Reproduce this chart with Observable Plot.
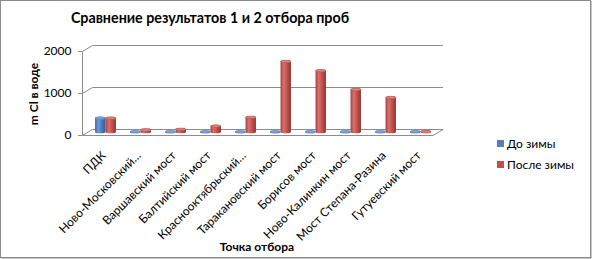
<!DOCTYPE html>
<html>
<head>
<meta charset="utf-8">
<script src="https://cdn.jsdelivr.net/npm/d3@7"></script>
<script src="https://cdn.jsdelivr.net/npm/@observablehq/plot@0.6"></script>
<style>
  html, body { margin: 0; padding: 0; background: #fff; }
  #chart { position: relative; width: 593px; height: 259px; font-family: Lato, "Open Sans", sans-serif; color: #000; }
  #border { position: absolute; left: 0; top: 0; width: 591px; height: 258px; box-sizing: border-box; border: 1px solid #8a8a8a; box-shadow: 1px 1px 0 #c8c8c8; }
  #plot { position: absolute; left: 0; top: 0; }
  .title { position: absolute; left: 0; top: 11px; width: 420px; text-align: center; font-weight: bold; font-size: 14.3px; line-height: 14px; white-space: nowrap; }
  .ytitle { position: absolute; left: 34px; top: 93.5px; transform: translate(-50%, -50%) rotate(-90deg); font-weight: bold; font-size: 12px; line-height: 12px; white-space: nowrap; }
  .xtitle { position: absolute; left: 257px; top: 247px; transform: translate(-50%, -50%); font-weight: bold; font-size: 12px; line-height: 12px; white-space: nowrap; }
  .legend { position: absolute; left: 497px; top: 137px; font-size: 12px; }
  .legend .item { display: flex; align-items: center; height: 12px; margin-bottom: 9.7px; white-space: nowrap; }
  .legend .sw { width: 7px; height: 7px; margin-right: 3px; }
</style>
</head>
<body>
<div id="chart">
  <div id="border"></div>
  <div id="plot"></div>
  <div class="title" id="title"></div>
  <div class="ytitle" id="ytitle"></div>
  <div class="xtitle" id="xtitle"></div>
  <div class="legend" id="legend"></div>
</div>
<script>
// ---- data ----
const chartTitle = "Сравнение результатов 1 и 2 отбора проб";
const yTitle = "m Cl в воде";
const xTitle = "Точка отбора";
const categories = [
  "ПДК",
  "Ново-Московский…",
  "Варшавский мост",
  "Балтийский мост",
  "Краснооктябрьский…",
  "Таракановский мост",
  "Борисов мост",
  "Ново-Калинкин мост",
  "Мост Степана-Разина",
  "Гутуевский мост"
];
const beforeWinter = [330, 5, 5, 5, 5, 5, 5, 5, 5, 5];
const afterWinter = [330, 50, 65, 140, 350, 1680, 1460, 1010, 820, 8];
const seriesNames = ["До зимы", "После зимы"];
const seriesColors = ["#4f81bd", "#c0504d"];
const yTicks = [0, 1000, 2000];

// ---- build ----
const rows = categories.map((c, i) => ({cat: c, before: beforeWinter[i], after: afterWinter[i]}));

document.getElementById("title").textContent = chartTitle;
document.getElementById("ytitle").textContent = yTitle;
document.getElementById("xtitle").textContent = xTitle;
const leg = document.getElementById("legend");
seriesNames.forEach((n, i) => {
  const it = document.createElement("div"); it.className = "item";
  const sw = document.createElement("div"); sw.className = "sw"; sw.style.background = seriesColors[i];
  const tx = document.createElement("span"); tx.textContent = n;
  it.appendChild(sw); it.appendChild(tx); leg.appendChild(it);
});

// 3D wall / floor, drawn from the y scale
function wallMark(index, scales, values, dims) {
  const y = scales.y;
  const L = dims.marginLeft, R = dims.width - dims.marginRight;
  const depthX = 10, depthY = 3;
  const front = v => Math.round(y(v) + depthY) + 0.5;
  const back = v => Math.round(y(v) - depthY) + 0.5;
  const g = d3.create("svg:g");
  const defs = g.append("defs");
  const grads = [
    ["gBlue", ["#3b679f", "#6f9ad3", "#4a7bb9", "#335b8f"]],
    ["gRed", ["#a63d3a", "#d8716d", "#bf4f4b", "#93332f"]]
  ];
  for (const [id, cols] of grads) {
    const lg = defs.append("linearGradient").attr("id", id).attr("x1", 0).attr("x2", 1).attr("y1", 0).attr("y2", 0);
    [0, 0.3, 0.65, 1].forEach((o, k) => lg.append("stop").attr("offset", o).attr("stop-color", cols[k]));
  }
  const lines = g.append("g").attr("fill", "none").attr("stroke", "#8c8c8c").attr("stroke-width", 1);
  const Lx = Math.round(L) + 0.5;
  lines.append("line").attr("x1", Lx).attr("x2", Lx).attr("y1", front(d3.max(yTicks))).attr("y2", front(0));
  for (const t of yTicks) {
    lines.append("path").attr("d", `M${Lx},${front(t)}L${Lx + depthX},${back(t)}H${R + depthX}`);
  }
  lines.append("path").attr("d", `M${Lx},${front(0)}H${R}L${R + depthX},${back(0)}`);
  return g.node();
}

const half = 17.55, barW = 10.5, ry = 1.3;
const cyl = (key, grad, cap, left) => [
  Plot.barY(rows, {
    x: "cat", y: key, fill: `url(#${grad})`,
    insetLeft: left ? half - barW : half, insetRight: left ? half : half - barW,
    insetTop: -ry, insetBottom: -ry, rx: barW / 2, ry: ry
  }),
  Plot.barY(rows, {
    x: "cat", y1: key, y2: key, fill: cap, stroke: grad === "gRed" ? "#a5403d" : "#3e6aa2", strokeWidth: 0.4,
    insetLeft: left ? half - barW : half, insetRight: left ? half : half - barW,
    insetTop: -ry, insetBottom: -ry, rx: barW / 2, ry: ry
  })
];

const chart = Plot.plot({
  width: 460,
  height: 259,
  marginLeft: 82,
  marginRight: 27,
  marginTop: 51,
  marginBottom: 124,
  style: {fontFamily: "Lato, 'Open Sans', sans-serif", fontSize: "12px", background: "transparent", color: "#000"},
  x: {type: "band", domain: categories, range: [87, 438], padding: 0, axis: null},
  y: {domain: [0, 2000], range: [132, 48], axis: null},
  marks: [
    wallMark,
    ...cyl("before", "gBlue", "#7ea3d6", true),
    ...cyl("after", "gRed", "#d98380", false),
    Plot.axisY({ticks: yTicks, tickSize: 4, tickPadding: 7, dy: 3, stroke: "#8c8c8c", fill: "#000", fontSize: 12, tickFormat: d => String(d), label: null}),
    Plot.axisX({tickSize: 0, tickPadding: 18, dx: -2, tickRotate: -45, fill: "#000", fontSize: 12, label: null})
  ]
});
document.getElementById("plot").appendChild(chart);
</script>
</body>
</html>
